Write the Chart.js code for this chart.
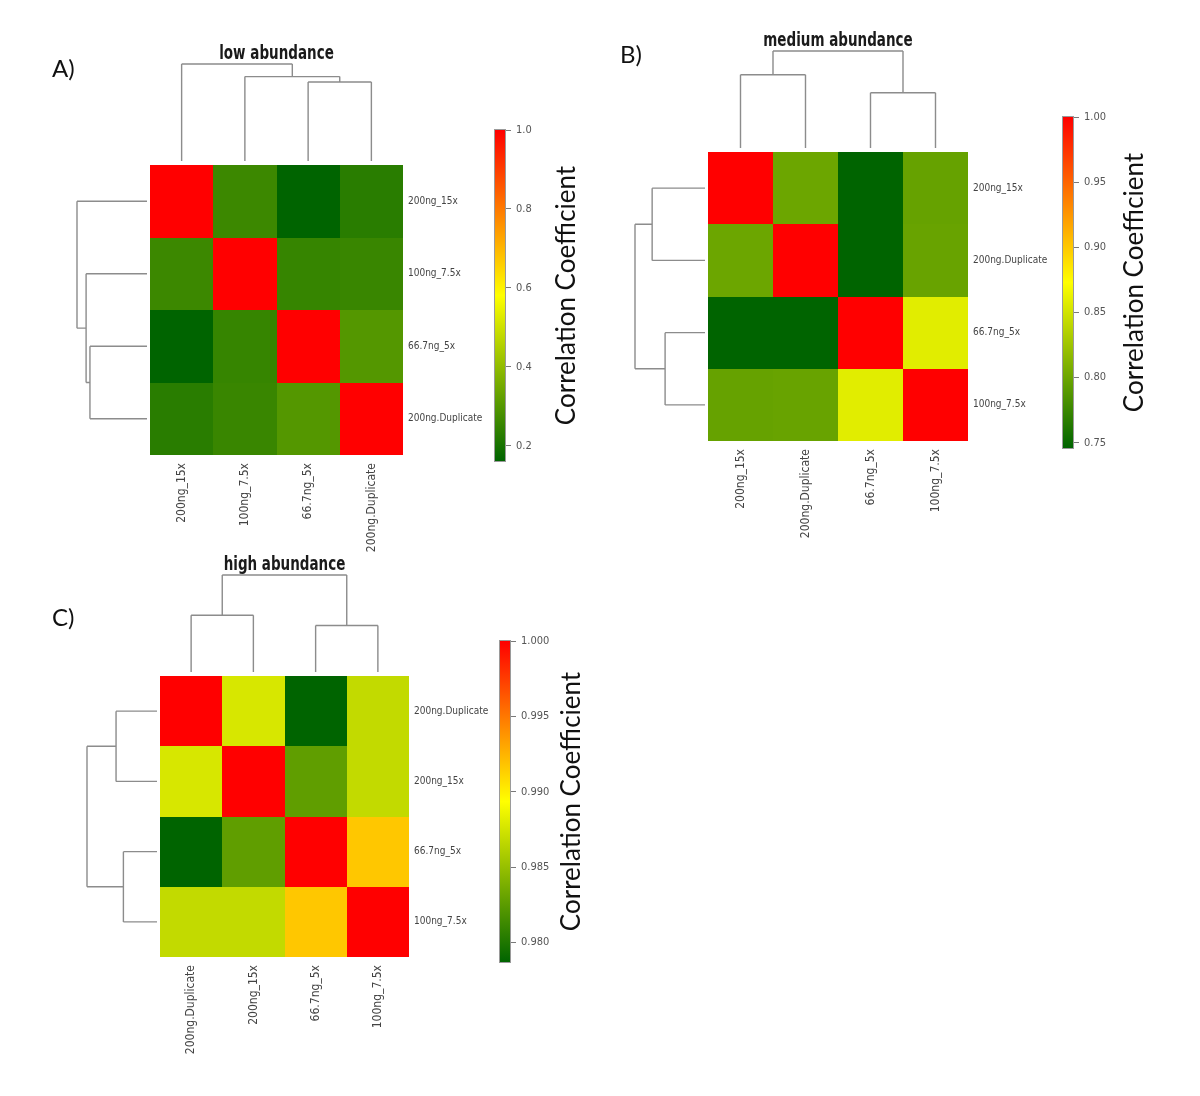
<!DOCTYPE html>
<html>
<head>
<meta charset="utf-8">
<title>Correlation heatmaps</title>
<script src="https://cdn.jsdelivr.net/npm/chart.js@4.4.1/dist/chart.umd.min.js"></script>
<style>
	html, body { margin:0; padding:0; background:#fff; }
	#page { position:relative; width:1200px; height:1096px; overflow:hidden; }
	#page canvas { position:absolute; }
</style>
</head>
<body>
<div id="page"></div>
<script>

// A) low abundance
const lowLabels = ['200ng_15x', '100ng_7.5x', '66.7ng_5x', '200ng.Duplicate']
const lowValues = [
	[1.000, 0.260, 0.162, 0.230],
	[0.260, 1.000, 0.250, 0.255],
	[0.162, 0.250, 1.000, 0.300],
	[0.230, 0.255, 0.300, 1.000]
]
const lowMerges = [[-3, -4], [-2, 1], [-1, 2]]
const lowHeights = [0.815, 0.87, 1.0]
const lowTicks = [0.2, 0.4, 0.6, 0.8, 1.0]
const lowTickLabels = ['0.2', '0.4', '0.6', '0.8', '1.0']

// B) medium abundance
const medLabels = ['200ng_15x', '200ng.Duplicate', '66.7ng_5x', '100ng_7.5x']
const medValues = [
	[1.000, 0.800, 0.746, 0.797],
	[0.800, 1.000, 0.746, 0.798],
	[0.746, 0.746, 1.000, 0.858],
	[0.797, 0.798, 0.858, 1.000]
]
const medMerges = [[-3, -4], [-1, -2], [1, 2]]
const medHeights = [0.57, 0.755, 1.0]
const medTicks = [0.75, 0.80, 0.85, 0.90, 0.95, 1.00]
const medTickLabels = ['0.75', '0.80', '0.85', '0.90', '0.95', '1.00']

// C) high abundance
const highLabels = ['200ng.Duplicate', '200ng_15x', '66.7ng_5x', '100ng_7.5x']
const highValues = [
	[1.0000, 0.9877, 0.9787, 0.9868],
	[0.9877, 1.0000, 0.9827, 0.9868],
	[0.9787, 0.9827, 1.0000, 0.9917],
	[0.9868, 0.9868, 0.9917, 1.0000]
]
const highMerges = [[-3, -4], [-1, -2], [1, 2]]
const highHeights = [0.48, 0.585, 1.0]
const highTicks = [0.980, 0.985, 0.990, 0.995, 1.000]
const highTickLabels = ['0.980', '0.985', '0.990', '0.995', '1.000']


const NARROW = '"Liberation Sans Narrow", "DejaVu Sans Condensed", "Liberation Sans", sans-serif'
const RAMP = [[0, 100, 0], [255, 255, 0], [255, 0, 0]]

function rampColor(t){
	t = Math.min(1, Math.max(0, t))
	const s = t*2
	const i = Math.min(1, Math.floor(s))
	const f = s - i
	const a = RAMP[i], b = RAMP[i + 1]
	return 'rgb(' + a.map((c, k) => Math.round(c + (b[k] - c)*f)).join(',') + ')'
}

// R style dendrogram: merges use -leaf / +cluster numbering
function drawTree(ctx, merges, heights, leafPos, base, span, horizontal){
	const hmax = Math.max(...heights)
	const nodes = []
	const at = h => base - h/hmax*span
	const get = c => c < 0 ? { p:leafPos[-c - 1], h:0 } : nodes[c - 1]
	const line = (p1, q1, p2, q2) => {
		if(horizontal){ ctx.moveTo(p1, q1); ctx.lineTo(p2, q2) }
		else { ctx.moveTo(q1, p1); ctx.lineTo(q2, p2) }
	}
	ctx.beginPath()
	merges.forEach(([ca, cb], k) => {
		const a = get(ca), b = get(cb), h = heights[k]
		line(a.p, at(a.h), a.p, at(h))
		line(b.p, at(b.h), b.p, at(h))
		line(a.p, at(h), b.p, at(h))
		nodes.push({ p:(a.p + b.p)/2, h })
	})
	ctx.stroke()
}

function addPanel(page, p){
	const [hl, ht, hr, hb] = p.heat
	const box = { left:hl - 110, top:ht - 135 }
	box.width = hr - box.left + 100
	box.height = hb - box.top + 130

	const cv = document.createElement('canvas')
	cv.width = box.width
	cv.height = box.height
	cv.style.left = box.left + 'px'
	cv.style.top = box.top + 'px'
	page.appendChild(cv)

	const all = p.values.flat()
	const lo = Math.min(...all), hi = Math.max(...all)

	const heatPlugin = {
		id:'heat',
		beforeDatasetsDraw(chart){
			const { ctx, scales:{ x, y } } = chart
			p.values.forEach((row, i) => row.forEach((v, j) => {
				const x0 = Math.round(x.getPixelForValue(j - 0.5)), x1 = Math.round(x.getPixelForValue(j + 0.5))
				const y0 = Math.round(y.getPixelForValue(i - 0.5)), y1 = Math.round(y.getPixelForValue(i + 0.5))
				ctx.fillStyle = rampColor((v - lo)/(hi - lo))
				ctx.fillRect(x0, y0, x1 - x0, y1 - y0)
			}))
		},
		afterDraw(chart){
			const { ctx, chartArea:area, scales:{ x, y } } = chart
			ctx.save()
			ctx.strokeStyle = '#8c8c8c'
			ctx.lineWidth = 1.4
			// column tree above, row tree on the left
			const colPos = p.labels.map((_, j) => x.getPixelForValue(j))
			drawTree(ctx, p.merges, p.heights, colPos, area.top - 4, 97, true)
			const rowPos = p.labels.map((_, i) => y.getPixelForValue(i))
			drawTree(ctx, p.merges, p.heights, rowPos, area.left - 3, 70, false)

			// panel title, a little stretched upward like the original figure
			const stretch = 1.25
			ctx.save()
			ctx.scale(1, stretch)
			ctx.fillStyle = '#1a1a1a'
			ctx.font = 'bold 15px ' + NARROW
			ctx.textAlign = 'center'
			ctx.textBaseline = 'middle'
			ctx.fillText(p.title, (area.left + area.right)/2, (area.top - 111)/stretch)
			ctx.restore()

			ctx.font = '24px Lato, "Open Sans", sans-serif'
			ctx.textAlign = 'left'
			ctx.textBaseline = 'alphabetic'
			ctx.fillStyle = '#111'
			ctx.fillText(p.tag, p.tagAt[0] - box.left, p.tagAt[1] - box.top)
			ctx.restore()
		}
	}

	new Chart(cv, {
		type:'scatter',
		data:{ datasets:[] },
		options:{
			responsive:false,
			animation:false,
			events:[],
			layout:{ padding:{ left:110, top:135, right:10, bottom:30 } },
			plugins:{ legend:{ display:false }, tooltip:{ enabled:false } },
			scales:{
				x:{
					type:'category',
					labels:p.labels,
					offset:true,
					position:'bottom',
					afterFit:s => { s.height = 100 },
					grid:{ display:false, drawTicks:false },
					border:{ display:false },
					ticks:{ autoSkip:false, minRotation:90, maxRotation:90, padding:8, color:'#444', font:{ family:NARROW, size:12 } }
				},
				y:{
					type:'category',
					labels:p.labels,
					offset:true,
					position:'right',
					afterFit:s => { s.width = 90 },
					grid:{ display:false, drawTicks:false },
					border:{ display:false },
					ticks:{ autoSkip:false, padding:5, color:'#444', font:{ family:NARROW, size:10 } }
				}
			}
		},
		plugins:[heatPlugin]
	})

	// colour key
	const [bl, bt, br, bb] = p.bar
	const kv = document.createElement('canvas')
	kv.width = 130
	kv.height = bb - bt + 30
	kv.style.left = (bl - 10) + 'px'
	kv.style.top = (bt - 15) + 'px'
	page.appendChild(kv)

	const keyPlugin = {
		id:'key',
		beforeDatasetsDraw(chart){
			const { ctx, chartArea:area, scales:{ y } } = chart
			const g = ctx.createLinearGradient(0, y.getPixelForValue(lo), 0, y.getPixelForValue(hi))
			RAMP.forEach((c, k) => g.addColorStop(k/(RAMP.length - 1), 'rgb(' + c.join(',') + ')'))
			ctx.save()
			ctx.fillStyle = g
			ctx.fillRect(area.left, area.top, area.width, area.height)
			ctx.strokeStyle = '#9a9a9a'
			ctx.lineWidth = 1
			ctx.strokeRect(area.left - 0.5, area.top - 0.5, area.width + 1, area.height + 1)
			ctx.restore()
		},
		afterDraw(chart){
			const { ctx, chartArea:area } = chart
			ctx.save()
			ctx.translate(area.right + 62, (area.top + area.bottom)/2)
			ctx.rotate(-Math.PI/2)
			ctx.font = '26px Lato, "Open Sans", sans-serif'
			ctx.fillStyle = '#111'
			ctx.textAlign = 'center'
			ctx.textBaseline = 'middle'
			ctx.fillText('Correlation Coefficient', 0, 0)
			ctx.restore()
		}
	}

	new Chart(kv, {
		type:'scatter',
		data:{ datasets:[] },
		options:{
			responsive:false,
			animation:false,
			events:[],
			layout:{ padding:{ left:10, top:15, bottom:15, right:kv.width - 20 - 40 } },
			plugins:{ legend:{ display:false }, tooltip:{ enabled:false } },
			scales:{
				x:{ display:false },
				y:{
					type:'linear',
					position:'right',
					min:lo,
					max:hi,
					afterFit:s => { s.width = 40 },
					afterBuildTicks:s => { s.ticks = p.ticks.map(v => ({ value:v })) },
					grid:{ drawOnChartArea:false, drawTicks:true, tickLength:6, color:'#7a7a7a' },
					border:{ display:false },
					ticks:{ autoSkip:false, padding:5, color:'#555', font:{ family:NARROW, size:11 }, callback:(v, i) => p.tickLabels[i] }
				}
			}
		},
		plugins:[keyPlugin]
	})
}

const page = document.getElementById('page')

addPanel(page, {
	title:'low abundance', tag:'A)', tagAt:[52, 77],
	heat:[150, 165, 403, 455], bar:[495, 130, 505, 461],
	labels:lowLabels, values:lowValues, merges:lowMerges, heights:lowHeights,
	ticks:lowTicks, tickLabels:lowTickLabels
})
addPanel(page, {
	title:'medium abundance', tag:'B)', tagAt:[620, 63],
	heat:[708, 152, 968, 441], bar:[1063, 117, 1073, 448],
	labels:medLabels, values:medValues, merges:medMerges, heights:medHeights,
	ticks:medTicks, tickLabels:medTickLabels
})
addPanel(page, {
	title:'high abundance', tag:'C)', tagAt:[52, 626],
	heat:[160, 676, 409, 957], bar:[500, 641, 510, 962],
	labels:highLabels, values:highValues, merges:highMerges, heights:highHeights,
	ticks:highTicks, tickLabels:highTickLabels
})

</script>
</body>
</html>
